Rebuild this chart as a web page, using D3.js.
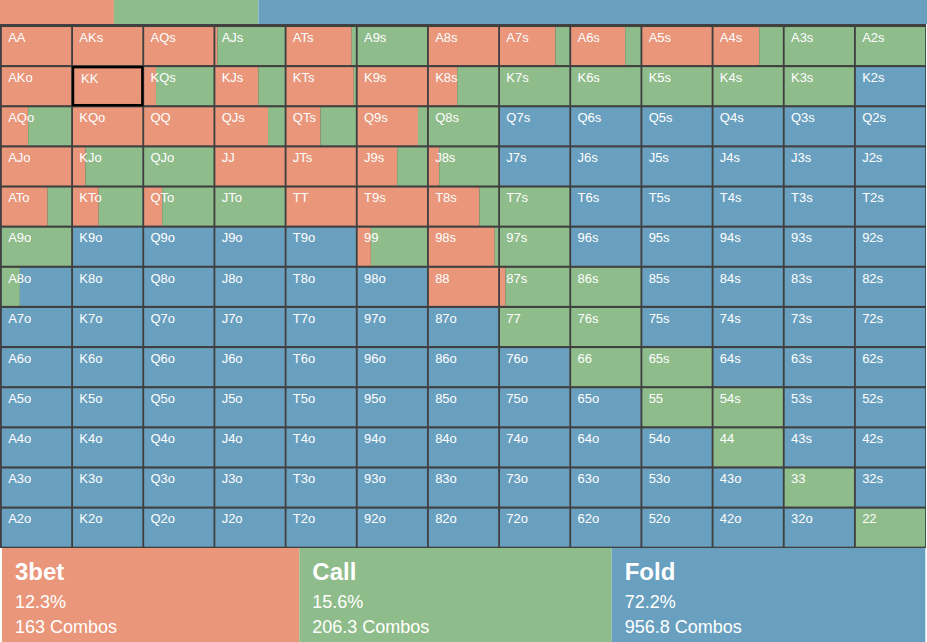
<!DOCTYPE html>
<html>
<head>
<meta charset="utf-8">
<script src="https://cdn.jsdelivr.net/npm/d3@7"></script>
<style>
  html, body { margin: 0; padding: 0; background: #ffffff; }
  svg { display: block; }
  text { font-family: "Liberation Sans", Arial, sans-serif; }
</style>
</head>
<body>
<div id="chart"></div>
<script>
// ---------------- DATA ----------------
const ranks = ["A","K","Q","J","T","9","8","7","6","5","4","3","2"];
const actions = ["3bet", "Call", "Fold"];
const actionColors = ["#e9967a", "#8fbc8b", "#6aa0bf"];
const totalPercent = [12.3, 15.6, 72.2];
const totalCombos = ["163", "206.3", "956.8"];
const selectedHand = "KK";

// fraction of each hand that 3bets (rows/cols in rank order; upper right = suited)
const threebetFreq = [
  [1.00, 1.00, 1.00, 0.03, 0.94, 0.00, 1.00, 0.80, 0.78, 1.00, 0.66, 0.00, 0.00],
  [1.00, 1.00, 0.17, 0.62, 0.97, 1.00, 0.41, 0, 0, 0, 0, 0, 0],
  [0.38, 1.00, 1.00, 0.76, 0.49, 0.87, 0, 0, 0, 0, 0, 0, 0],
  [1.00, 0.18, 0.00, 1.00, 1.00, 0.57, 0.15, 0, 0, 0, 0, 0, 0],
  [0.66, 0.37, 0.26, 0.00, 1.00, 1.00, 0.73, 0, 0, 0, 0, 0, 0],
  [0, 0, 0, 0, 0, 0.19, 0.95, 0, 0, 0, 0, 0, 0],
  [0, 0, 0, 0, 0, 0, 1.00, 0.08, 0, 0, 0, 0, 0],
  [0, 0, 0, 0, 0, 0, 0, 0, 0, 0, 0, 0, 0],
  [0, 0, 0, 0, 0, 0, 0, 0, 0, 0, 0, 0, 0],
  [0, 0, 0, 0, 0, 0, 0, 0, 0, 0, 0, 0, 0],
  [0, 0, 0, 0, 0, 0, 0, 0, 0, 0, 0, 0, 0],
  [0, 0, 0, 0, 0, 0, 0, 0, 0, 0, 0, 0, 0],
  [0, 0, 0, 0, 0, 0, 0, 0, 0, 0, 0, 0, 0]
];
// fraction of each hand that calls
const callFreq = [
  [0, 0, 0, 0.97, 0.06, 1.00, 0, 0.20, 0.22, 0, 0.34, 1.00, 1.00],
  [0, 0, 0.83, 0.38, 0.03, 0, 0.59, 1.00, 1.00, 1.00, 1.00, 1.00, 0],
  [0.62, 0, 0, 0.24, 0.51, 0.13, 1.00, 0, 0, 0, 0, 0, 0],
  [0, 0.82, 1.00, 0, 0, 0.43, 0.85, 0, 0, 0, 0, 0, 0],
  [0.34, 0.63, 0.74, 1.00, 0, 0, 0.27, 1.00, 0, 0, 0, 0, 0],
  [1.00, 0, 0, 0, 0, 0.81, 0.05, 1.00, 0, 0, 0, 0, 0],
  [0.26, 0, 0, 0, 0, 0, 0, 0.92, 1.00, 0, 0, 0, 0],
  [0, 0, 0, 0, 0, 0, 0, 1.00, 1.00, 0, 0, 0, 0],
  [0, 0, 0, 0, 0, 0, 0, 0, 1.00, 1.00, 0, 0, 0],
  [0, 0, 0, 0, 0, 0, 0, 0, 0, 1.00, 1.00, 0, 0],
  [0, 0, 0, 0, 0, 0, 0, 0, 0, 0, 1.00, 0, 0],
  [0, 0, 0, 0, 0, 0, 0, 0, 0, 0, 0, 1.00, 0],
  [0, 0, 0, 0, 0, 0, 0, 0, 0, 0, 0, 0, 1.00]
];

// ---------------- LAYOUT ----------------
const W = 927, H = 642;
const topBarH = 24;
const gridTop = 24, gridBottom = 548.8;
const legendTop = 548;
const legendEdges = [2, 299.3, 611.7, 925.3];

const svg = d3.select("#chart").append("svg")
  .attr("width", W).attr("height", H);

// top summary bar
const topX = d3.scaleLinear().domain([0, d3.sum(totalPercent)]).range([0, W]);
let acc = 0;
const topSegs = totalPercent.map((p, i) => { const s = { start: acc, end: acc + p, i }; acc += p; return s; });
svg.append("g").selectAll("rect").data(topSegs).join("rect")
  .attr("x", d => topX(d.start))
  .attr("y", 0)
  .attr("width", d => topX(d.end) - topX(d.start))
  .attr("height", topBarH)
  .attr("fill", d => actionColors[d.i]);

// grid background (borders)
svg.append("rect")
  .attr("x", 0).attr("y", gridTop)
  .attr("width", W - 1).attr("height", legendTop - gridTop)
  .attr("fill", "#404040");

const x = d3.scaleBand().domain(ranks).range([0, W]).padding(0.026);
const y = d3.scaleBand().domain(ranks).range([24.9, gridBottom]).padding(0.053);

const cells = [];
ranks.forEach((r, i) => {
  ranks.forEach((c, j) => {
    let label;
    if (i === j) label = r + c;
    else if (i < j) label = r + c + "s";
    else label = c + r + "o";
    const tb = threebetFreq[i][j], ca = callFreq[i][j];
    const fo = Math.max(0, 1 - tb - ca);
    cells.push({ row: r, col: c, label, freqs: [tb, ca, fo] });
  });
});

const cellG = svg.append("g").selectAll("g").data(cells).join("g")
  .attr("transform", d => `translate(${x(d.col)},${y(d.row)})`);

const inner = d3.scaleLinear().domain([0, 1]).range([0, x.bandwidth()]);

cellG.each(function(d) {
  const g = d3.select(this);
  let a = 0;
  const segs = d.freqs.map((f, k) => { const s = { a, b: a + f, k }; a += f; return s; })
    .filter(s => s.b - s.a > 0);
  g.selectAll("rect.seg").data(segs).join("rect")
    .attr("class", "seg")
    .attr("x", s => inner(s.a))
    .attr("y", 0)
    .attr("width", s => inner(s.b) - inner(s.a))
    .attr("height", y.bandwidth())
    .attr("fill", s => actionColors[s.k]);
});

cellG.append("text")
  .attr("x", d => d.label === selectedHand ? 8 : 6.3)
  .attr("y", d => d.label === selectedHand ? 15.5 : 14.7)
  .attr("fill", "#ffffff")
  .attr("font-size", 13)
  .text(d => d.label);

cellG.filter(d => d.label === selectedHand).append("rect")
  .attr("x", 0).attr("y", 0)
  .attr("width", x.bandwidth()).attr("height", y.bandwidth())
  .attr("fill", "none")
  .attr("stroke", "#000000")
  .attr("stroke-width", 2.4);

// legend
const legendG = svg.append("g").selectAll("g").data(actions).join("g")
  .attr("transform", (d, i) => `translate(${legendEdges[i]},${legendTop})`);

legendG.append("rect")
  .attr("x", 0).attr("y", 0)
  .attr("width", (d, i) => legendEdges[i + 1] - legendEdges[i])
  .attr("height", H - legendTop)
  .attr("fill", (d, i) => actionColors[i]);

legendG.append("text")
  .attr("x", 13).attr("y", 32)
  .attr("fill", "#ffffff")
  .attr("font-size", 24).attr("font-weight", "bold")
  .text(d => d);

legendG.append("text")
  .attr("x", 13).attr("y", 60)
  .attr("fill", "#ffffff")
  .attr("font-size", 18)
  .text((d, i) => totalPercent[i].toFixed(1) + "%");

legendG.append("text")
  .attr("x", 13).attr("y", 85)
  .attr("fill", "#ffffff")
  .attr("font-size", 18)
  .text((d, i) => totalCombos[i] + " Combos");
</script>
</body>
</html>
